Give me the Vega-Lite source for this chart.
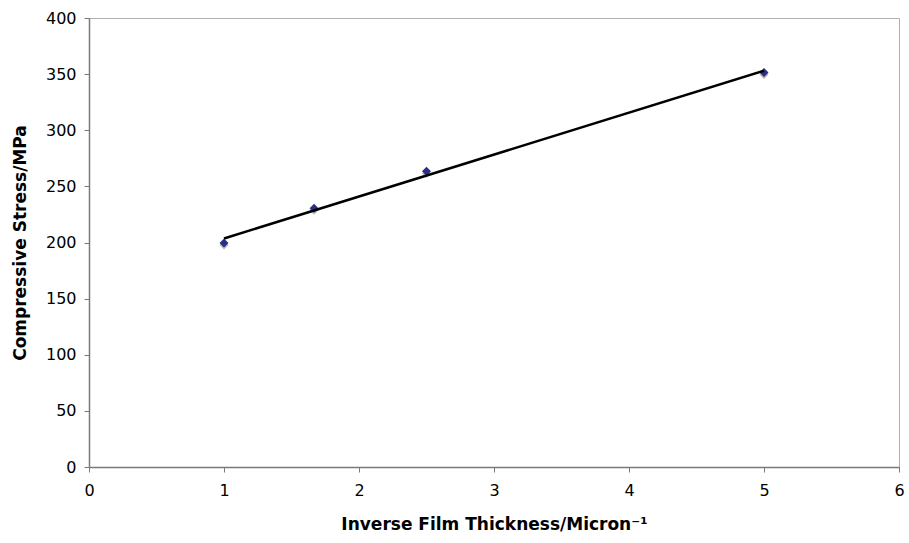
{
  "$schema": "https://vega.github.io/schema/vega-lite/v6.json",
  "width": 810,
  "height": 449,
  "autosize": "none",
  "padding": {"left": 89, "top": 18, "right": 10, "bottom": 76},
  "background": "white",
  "config": {
    "font": "DejaVu Sans",
    "view": {"stroke": "#b0b0b0", "strokeWidth": 1},
    "axis": {
      "grid": false,
      "domainColor": "#7a7a7a",
      "domainWidth": 1.5,
      "tickColor": "#7a7a7a",
      "tickSize": 5,
      "labelFont": "DejaVu Sans",
      "labelFontSize": 16,
      "labelColor": "#000",
      "labelFlush": false,
      "titleFont": "DejaVu Sans",
      "titleFontSize": 17,
      "titleFontWeight": "bold",
      "titleColor": "#000"
    }
  },
  "datasets": {
    "points": [
      {"x": 1, "y": 199.5},
      {"x": 1.667, "y": 230.5},
      {"x": 2.5, "y": 263.5},
      {"x": 5, "y": 351.5}
    ],
    "trend": [
      {"x": 1, "y": 203.6},
      {"x": 5, "y": 353.0}
    ]
  },
  "layer": [
    {
      "data": {"name": "points"},
      "mark": {"type": "point", "shape": "diamond", "filled": true, "color": "#b8b8b8", "size": 80, "opacity": 1, "yOffset": 2},
      "encoding": {
        "x": {"field": "x", "type": "quantitative", "scale": {"domain": [0, 6]}, "axis": {"values": [0,1,2,3,4,5,6], "format": "d", "labelPadding": 10, "title": "Inverse Film Thickness/Micron⁻¹", "titlePadding": 18}},
        "y": {"field": "y", "type": "quantitative", "scale": {"domain": [0, 400]}, "axis": {"values": [0,50,100,150,200,250,300,350,400], "labelPadding": 8, "title": "Compressive Stress/MPa", "titlePadding": 16}}
      }
    },
    {
      "data": {"name": "points"},
      "mark": {"type": "point", "shape": "diamond", "filled": true, "color": "#2a2f85", "size": 80, "opacity": 1},
      "encoding": {
        "x": {"field": "x", "type": "quantitative"},
        "y": {"field": "y", "type": "quantitative"}
      }
    },
    {
      "data": {"name": "trend"},
      "mark": {"type": "line", "color": "#000", "strokeWidth": 2.5},
      "encoding": {
        "x": {"field": "x", "type": "quantitative"},
        "y": {"field": "y", "type": "quantitative"}
      }
    }
  ]
}
